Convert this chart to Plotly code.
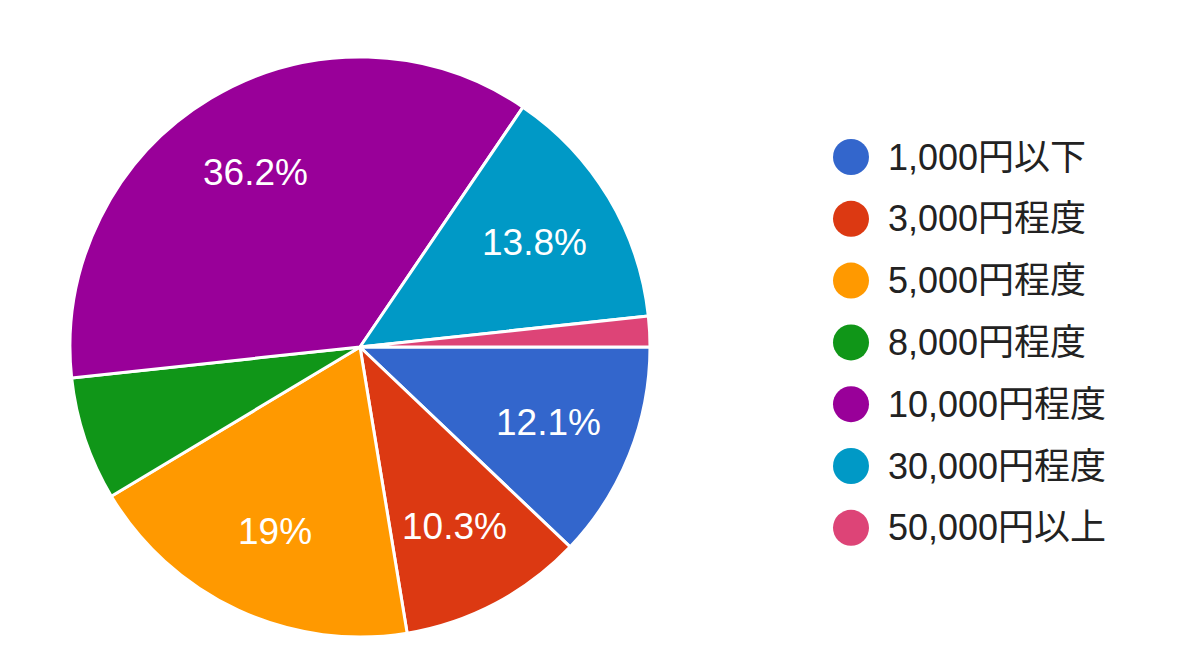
import math
import plotly.graph_objects as go

# Survey answers: budget categories and their share of responses (%)
categories = ["1,000円以下", "3,000円程度", "5,000円程度", "8,000円程度",
              "10,000円程度", "30,000円程度", "50,000円以上"]
shares = [12.1, 10.3, 19, 6.9, 36.2, 13.8, 1.7]
colors = ["#3366cc", "#dc3912", "#ff9900", "#109618",
          "#990099", "#0099c6", "#dd4477"]

W, H = 1200, 669
CX, CY, R = 360, 347, 290          # pie centre and radius in pixels
LABEL_R = 0.70 * R                 # where the percentage labels sit
LABEL_MIN = 10                     # smaller slices are left unlabeled
FONT = "Arial, Liberation Sans, Noto Sans CJK JP, sans-serif"

fig = go.Figure()

fig.add_trace(go.Pie(
    labels=categories,
    values=shares,
    sort=False,
    direction="clockwise",
    rotation=90,
    marker=dict(colors=colors, line=dict(color="white", width=3)),
    textinfo="none",
    hoverinfo="label+percent",
    showlegend=False,
    domain=dict(x=[(CX - R) / W, (CX + R) / W],
                y=[(H - CY - R) / H, (H - CY + R) / H]),
))

# Pixel-space overlay axes for the labels and the legend
fig.update_layout(
    xaxis=dict(range=[0, W], visible=False, fixedrange=True),
    yaxis=dict(range=[H, 0], visible=False, fixedrange=True),
)

annotations = []

# Percentage labels on the slice bisectors
cum = 0.0
total = sum(shares)
for v in shares:
    theta = math.radians(360 * (cum + v / 2) / total)
    cum += v
    if v < LABEL_MIN:
        continue
    annotations.append(dict(
        x=CX + LABEL_R * math.cos(theta),
        y=CY + LABEL_R * math.sin(theta),
        xref="x", yref="y", text=f"{v:g}%", showarrow=False,
        font=dict(family=FONT, size=37, color="white"),
        xanchor="center", yanchor="middle",
    ))

# Legend: coloured dots with category names
LEG_X, LEG_Y0, LEG_STEP = 851, 157, 61.8
leg_y = [LEG_Y0 + i * LEG_STEP for i in range(len(categories))]
fig.add_trace(go.Scatter(
    x=[LEG_X] * len(categories), y=leg_y,
    mode="markers",
    marker=dict(size=36, color=colors, line=dict(width=0)),
    hoverinfo="skip", showlegend=False,
))
for name, y in zip(categories, leg_y):
    annotations.append(dict(
        x=LEG_X + 35, y=y, xref="x", yref="y", text=name, showarrow=False,
        font=dict(family=FONT, size=36, color="#222222"),
        xanchor="left", yanchor="middle",
    ))

fig.update_layout(
    width=W, height=H,
    margin=dict(l=0, r=0, t=0, b=0),
    paper_bgcolor="white",
    plot_bgcolor="white",
    annotations=annotations,
)

fig.write_html("out.html")
